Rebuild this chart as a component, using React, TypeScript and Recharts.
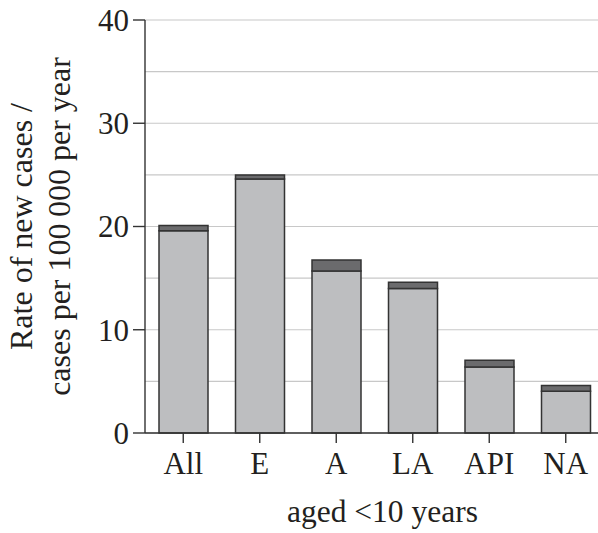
import { BarChart, Bar, XAxis, YAxis, CartesianGrid } from "recharts"

const groups = ["All", "E", "A", "LA", "API", "NA"]
const baseRate = [19.6, 24.6, 15.7, 14.0, 6.4, 4.05]
const topRate = [0.5, 0.4, 1.05, 0.6, 0.65, 0.55]
const gridTicks = [0, 5, 10, 15, 20, 25, 30, 35, 40]
const labelEvery = 10

const font = "'Liberation Serif', 'Times New Roman', serif"
const ink = "#231f20"

const chartData = groups.map((g, i) => ({ group: g, base: baseRate[i], top: topRate[i] }))

// only the multiples of 10 get a tick mark and a number; the 5s are grid only
function YTick(props: any) {
  const { x, y, payload } = props
  if (payload.value % labelEvery !== 0) return null
  return (
    <g>
      <line x1={x + 4} x2={x + 16} y1={y} y2={y} stroke="#333" strokeWidth={1.4} />
      <text
        x={x}
        y={y}
        dy="0.35em"
        textAnchor="end"
        fontFamily={font}
        fontSize={31}
        fill={ink}
      >
        {payload.value}
      </text>
    </g>
  )
}

function YTitle(props: any) {
  const vb = props.viewBox || {}
  const cy = vb.y + vb.height / 2
  const lines = [
    { text: "Rate of new cases /", x: 32 },
    { text: "cases per 100\u2009000 per year", x: 70 }
  ]
  return (
    <g>
      {lines.map(l => (
        <text
          key={l.text}
          x={l.x}
          y={cy}
          transform={`rotate(-90, ${l.x}, ${cy})`}
          textAnchor="middle"
          fontFamily={font}
          fontSize={32}
          fill={ink}
        >
          {l.text}
        </text>
      ))}
    </g>
  )
}

function XTitle(props: any) {
  const vb = props.viewBox || {}
  return (
    <text
      x={vb.x + vb.width / 2 + 8}
      y={vb.y + 89}
      textAnchor="middle"
      fontFamily={font}
      fontSize={31.5}
      fill={ink}
    >
      aged &lt;10 years
    </text>
  )
}

export default function App() {
  return (
    <div
      style={{
        position: "absolute",
        left: 0,
        top: 0,
        width: 598,
        height: 533,
        overflow: "hidden",
        background: "white"
      }}
    >
      <BarChart
        width={604}
        height={533}
        data={chartData}
        margin={{ top: 20, right: 0, bottom: 0, left: 0 }}
        barSize={49}
      >
        <CartesianGrid vertical={false} stroke="#c8c8c8" strokeWidth={1.2} />
        <YAxis
          width={145}
          domain={[0, 40]}
          ticks={gridTicks}
          interval={0}
          tickSize={12}
          tickMargin={4}
          tickLine={false}
          stroke="#333"
          strokeWidth={1.4}
          tick={<YTick />}
          label={<YTitle />}
        />
        <XAxis
          dataKey="group"
          height={100}
          interval={0}
          tickSize={10}
          tickMargin={9}
          stroke="#333"
          strokeWidth={1.4}
          tick={{ fontFamily: font, fontSize: 31, fill: ink }}
          label={<XTitle />}
        />
        <Bar
          dataKey="base"
          stackId="r"
          fill="#bdbec0"
          stroke="#333"
          strokeWidth={1.5}
          isAnimationActive={false}
        />
        <Bar
          dataKey="top"
          stackId="r"
          fill="#6b6b6d"
          stroke="#333"
          strokeWidth={1.5}
          isAnimationActive={false}
        />
      </BarChart>
    </div>
  )
}
